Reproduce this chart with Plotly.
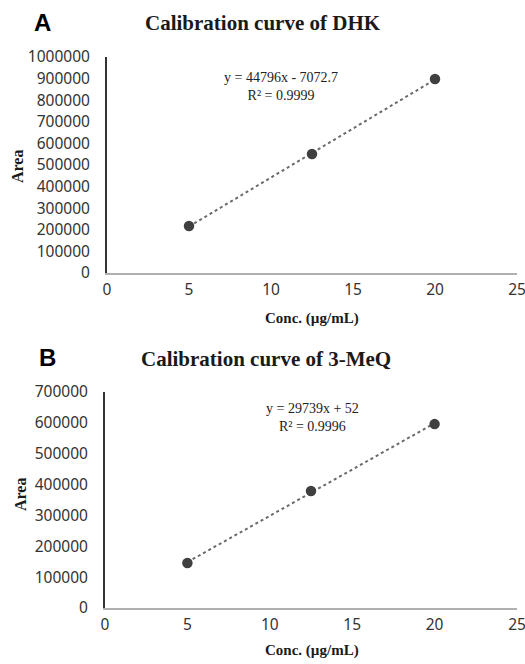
import numpy as np
import plotly.graph_objects as go

W, H = 525, 664

# Data
conc = [5, 12.5, 20]
area_dhk = [217500, 551000, 898000]
area_meq = [146000, 379000, 596000]

titles = ["Calibration curve of DHK", "Calibration curve of 3-MeQ"]
panel_labels = ["A", "B"]
equations = ["y = 44796x - 7072.7<br>R² = 0.9999", "y = 29739x + 52<br>R² = 0.9996"]
x_ticks = [0, 5, 10, 15, 20, 25]
y_ticks_a = list(range(0, 1000001, 100000))
y_ticks_b = list(range(0, 700001, 100000))

def px(x):
    return x / W

def py(y):
    return 1 - y / H

fig = go.Figure()

MARK = "#404040"
LINE = "#6a6a6a"

for i, (ys, xa, ya) in enumerate([(area_dhk, "x", "y"), (area_meq, "x2", "y2")]):
    m, b = np.polyfit(conc, ys, 1)
    xs = np.array([conc[0], conc[-1]])
    fig.add_trace(go.Scatter(x=xs, y=m * xs + b, mode="lines",
                             line=dict(color=LINE, width=2, dash="dot"),
                             xaxis=xa, yaxis=ya, showlegend=False, hoverinfo="skip"))
    fig.add_trace(go.Scatter(x=conc, y=ys, mode="markers",
                             marker=dict(color=MARK, size=10.5),
                             xaxis=xa, yaxis=ya, showlegend=False))

tickfont = dict(family="Noto Sans, sans-serif", size=15.5, color="#333333")

common_x = dict(range=[0, 25], tickvals=x_ticks, showgrid=False, zeroline=False,
                showline=True, linecolor="#b0b0b0", linewidth=1.5,
                ticks="", tickfont=tickfont, ticklabelstandoff=2, fixedrange=True,
                ticklabeloverflow="allow", automargin=False)
common_y = dict(showgrid=False, zeroline=False, showline=True, linecolor="#333333",
                linewidth=2, ticks="", tickfont=tickfont, ticklabelstandoff=12,
                fixedrange=True, ticklabeloverflow="allow", automargin=False)

fig.update_layout(
    width=W, height=H,
    margin=dict(l=0, r=0, t=0, b=0, pad=0, autoexpand=False),
    paper_bgcolor="white", plot_bgcolor="white",
    xaxis=dict(domain=[px(107), px(517)], anchor="y", **common_x),
    yaxis=dict(domain=[py(273), py(57)], anchor="x", range=[0, 1000000],
               tickvals=y_ticks_a, ticktext=[str(v) for v in y_ticks_a], **common_y),
    xaxis2=dict(domain=[px(105), px(517)], anchor="y2", **common_x),
    yaxis2=dict(domain=[py(608), py(392)], anchor="x2", range=[0, 700000],
                tickvals=y_ticks_b, ticktext=[str(v) for v in y_ticks_b], **common_y),
)

serif = "Liberation Serif, Times New Roman, serif"
anns = []

def ann(text, x, y, font, **kw):
    d = dict(text=text, x=px(x), y=py(y), xref="paper", yref="paper",
             xanchor="center", yanchor="middle", showarrow=False, font=font)
    d.update(kw)
    anns.append(d)

for lab, (x, y) in zip(panel_labels, [(42, 23), (47, 357)]):
    ann(f"<b>{lab}</b>", x, y, dict(family="Liberation Sans, Arial, sans-serif", size=24, color="black"))
for t, (x, y) in zip(titles, [(263, 23), (266, 359)]):
    ann(f"<b>{t}</b>", x, y, dict(family=serif, size=21, color="#1a1a1a"))
for (x, y) in [(312, 318), (312, 650)]:
    ann("<b>Conc. (µg/mL)</b>", x, y, dict(family=serif, size=15, color="#1a1a1a"))
for (x, y) in [(17, 167), (20, 495)]:
    ann("<b>Area</b>", x, y, dict(family=serif, size=16, color="#1a1a1a"), textangle=-90)
for eq, (x, y) in zip(equations, [(281, 86), (312, 418)]):
    ann(eq, x, y, dict(family=serif, size=14, color="#222222"), align="center")

fig.update_layout(annotations=anns)

fig.write_html("out.html")
